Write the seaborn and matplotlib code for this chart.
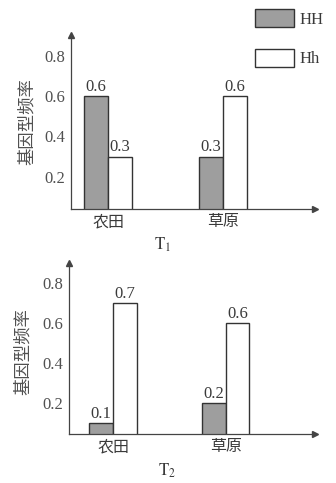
import matplotlib
matplotlib.use("Agg")
import matplotlib.pyplot as plt
import seaborn as sns
import pandas as pd
from matplotlib.patches import Patch

# ---- data ----
sites = ["农田", "草原"]
genotypes = ["HH", "Hh"]
t1_HH = [0.6, 0.3]
t1_Hh = [0.3, 0.6]
t2_HH = [0.1, 0.2]
t2_Hh = [0.7, 0.6]
yticks = [0.2, 0.4, 0.6, 0.8]
ylabel = "基因型频率"
panel_titles = ["$\\mathrm{T_1}$", "$\\mathrm{T_2}$"]

sns.set_theme(style="white")
plt.rcParams["font.family"] = ["Liberation Serif", "Noto Sans CJK SC"]
plt.rcParams["mathtext.fontset"] = "stix"

CJK = "Noto Sans CJK SC"
SERIF = "Liberation Serif"
palette = {"HH": "#9e9e9e", "Hh": "#ffffff"}
TXT = "#3a3a3a"


def make_df(hh, hb):
    rows = []
    for s, a, b in zip(sites, hh, hb):
        rows.append({"site": s, "genotype": "HH", "freq": a})
        rows.append({"site": s, "genotype": "Hh", "freq": b})
    return pd.DataFrame(rows)


fig = plt.figure(figsize=(3.36, 4.83), dpi=100)

specs = [
    # rect, xlim, ylim, ylabel coords, xlabel coords
    ((71/336, 1-209/483, 244/336, 174/483), (-0.322, 1.8), (0.04, 0.904), (-0.145, 0.5), (0.377, -0.15)),
    ((69/336, 1-434/483, 246/336, 171/483), (-0.39, 1.79), (0.045, 0.90), (-0.15, 0.48), (0.40, -0.16)),
]
datas = [(t1_HH, t1_Hh), (t2_HH, t2_Hh)]

for (rect, xl, yl, ylc, xlc), (hh, hb), title in zip(specs, datas, panel_titles):
    ax = fig.add_axes(rect)
    df = make_df(hh, hb)
    sns.barplot(data=df, x="site", y="freq", hue="genotype", hue_order=genotypes,
                order=sites, palette=palette, edgecolor="#333333", linewidth=1.0,
                width=0.417, gap=0, legend=False, ax=ax)
    for cont in ax.containers:
        ax.bar_label(cont, fmt="%.1f", padding=1.0, fontsize=12,
                     family=SERIF, color=TXT)
    ax.set_xlim(*xl)
    ax.set_ylim(*yl)
    ax.set_yticks(yticks)
    ax.set_yticklabels([f"{v:.1f}" for v in yticks], family=SERIF, fontsize=12, color="#505050")
    ax.set_xticks(range(len(sites)))
    ax.set_xticklabels(sites, family=CJK, fontsize=11.5, color=TXT)
    ax.tick_params(axis="y", direction="out", length=3, width=0.8, color="#444444", pad=1)
    ax.tick_params(axis="x", length=0, pad=3)
    for sp in ["top", "right"]:
        ax.spines[sp].set_visible(False)
    for sp in ["left", "bottom"]:
        ax.spines[sp].set_color("#444444")
        ax.spines[sp].set_linewidth(0.9)
    ax.plot([0], [1], marker="^", markersize=4, color="#444444", transform=ax.transAxes, clip_on=False)
    ax.plot([1], [0], marker=">", markersize=4, color="#444444", transform=ax.transAxes, clip_on=False)
    ax.set_ylabel(ylabel, family=CJK, fontsize=12.5, color="#505050")
    ax.yaxis.set_label_coords(*ylc)
    ax.set_xlabel(title, fontsize=12, color=TXT)
    ax.xaxis.set_label_coords(*xlc)

handles = [Patch(facecolor=palette[g], edgecolor="#333333", linewidth=1.0, label=g) for g in genotypes]
fig.legend(handles=handles, loc="upper left", bbox_to_anchor=(255/336, 1-9/483),
           frameon=False, handlelength=2.35, handleheight=1.3, labelspacing=1.25,
           handletextpad=0.3, borderpad=0, borderaxespad=0,
           prop={"family": SERIF, "size": 12}, labelcolor=TXT)

fig.savefig("out.png", dpi=100, facecolor="white")
